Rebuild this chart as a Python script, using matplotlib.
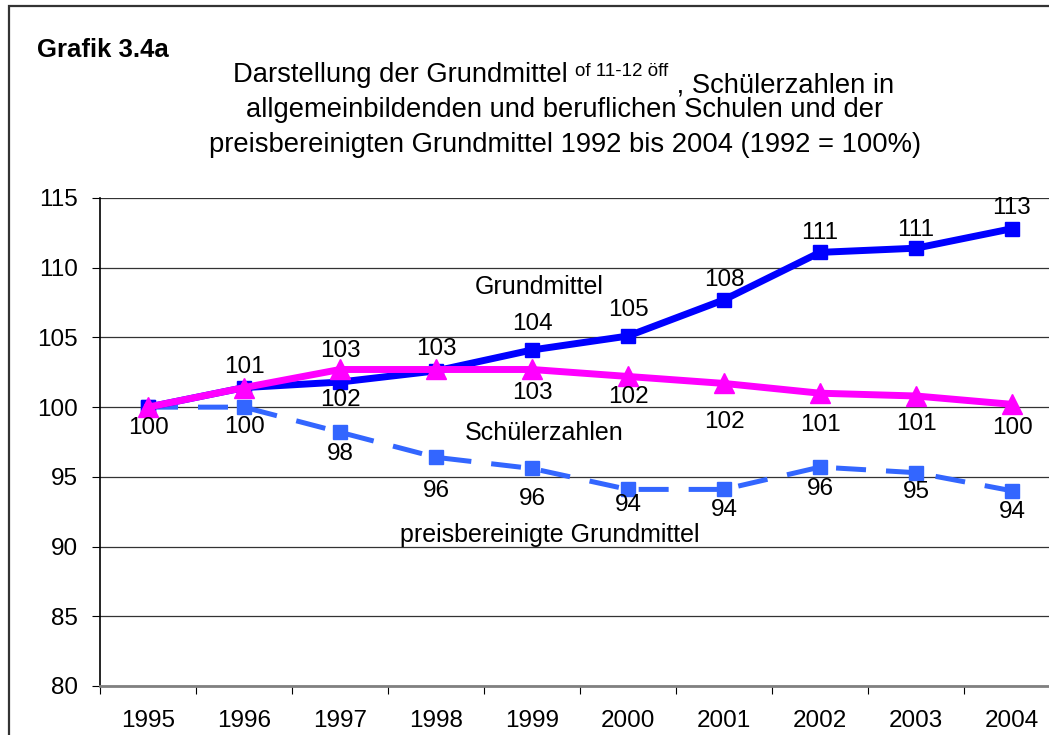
import matplotlib
import numpy as np

matplotlib.use("Agg")
import matplotlib.pyplot as plt  # noqa: E402
from matplotlib.patches import Rectangle  # noqa: E402

plt.rcParams["font.family"] = ["Liberation Sans", "DejaVu Sans"]

years = ["1995", "1996", "1997", "1998", "1999", "2000", "2001", "2002", "2003", "2004"]
grundmittel = [100.0, 101.4, 101.8, 102.6, 104.1, 105.1, 107.7, 111.1, 111.4, 112.8]
schueler = [100.0, 101.4, 102.7, 102.7, 102.7, 102.2, 101.7, 101.0, 100.8, 100.2]
preisber = [100.0, 100.0, 98.2, 96.4, 95.6, 94.1, 94.1, 95.7, 95.3, 94.0]

# label offsets in points (None = no label shown)
off_grund = [-15, 15, -13, 16, 19, 19, 14, 14, 13, 15]
off_schueler = [None, None, 13, None, -17, -15, -28, -23, -20, -17]
off_preis = [None, -14, -16, -24, -22, -11, -15, -16, -14, -15]

BLUE = "#0000FF"
MAGENTA = "#FF00FF"
LIGHT = "#3366FF"
FS = 17.5

fig = plt.figure(figsize=(10.49, 7.35), dpi=100)
W, H = 1049, 735
ax = fig.add_axes([100 / W, 1 - 686 / H, 960 / W, 488 / H])

x = np.arange(len(years))
ax.plot(x, preisber, color=LIGHT, lw=3.6, dashes=(6, 4), marker="s", ms=10,
        markeredgecolor=LIGHT, zorder=3)
ax.plot(x, grundmittel, color=BLUE, lw=5, marker="s", ms=10.5, zorder=4)
ax.plot(x, schueler, color=MAGENTA, lw=5, marker="^", ms=15, zorder=5)


def label(values, offsets):
    for xi, v, off in zip(x, values, offsets):
        if off is None:
            continue
        ax.annotate(f"{v:.0f}", (xi, v), xytext=(0, off), textcoords="offset points",
                    ha="center", va="center", fontsize=FS, zorder=6)


label(grundmittel, off_grund)
label(schueler, off_schueler)
label(preisber, off_preis)

ax.text(4.07, 108.6, "Grundmittel", ha="center", va="center", fontsize=18)
ax.text(4.13, 98.15, "Schülerzahlen", ha="center", va="center", fontsize=18)
ax.text(4.18, 90.8, "preisbereinigte Grundmittel", ha="center", va="center", fontsize=18)

ax.set_xlim(-0.5, len(years) - 0.5)
ax.set_ylim(80, 115)
ax.set_yticks(range(80, 116, 5))
ax.yaxis.grid(True, color="#333333", lw=0.9)
ax.set_axisbelow(True)
ax.tick_params(axis="y", labelsize=FS, length=6, pad=10, direction="out")

ax.set_xticks(np.arange(-0.5, len(years), 1))
ax.set_xticklabels([])
ax.set_xticks(x, minor=True)
ax.set_xticklabels(years, minor=True)
ax.tick_params(axis="x", which="major", length=6, direction="out")
ax.tick_params(axis="x", which="minor", length=0, labelsize=FS, pad=17)

for side in ("top", "right"):
    ax.spines[side].set_visible(False)
ax.spines["left"].set_color("black")
ax.spines["left"].set_linewidth(1.2)
ax.spines["bottom"].set_color("#808080")
ax.spines["bottom"].set_linewidth(2)

# outer frame
fig.patches.append(Rectangle((9 / W, -0.1), 1.2, 1.1 - 6 / H, transform=fig.transFigure,
                             fill=False, edgecolor="#333333", lw=1.6))

fig.text(37 / W, 1 - 50 / H, "Grafik 3.4a", fontsize=18.5, fontweight="bold",
         ha="left", va="center")

t1 = fig.text(233 / W, 1 - 82 / H, "Darstellung der Grundmittel ", fontsize=19.7,
              ha="left", va="baseline")
t2 = ax.annotate("of 11-12 öff", xy=(1, 0), xycoords=t1, xytext=(0, 9),
                 textcoords="offset points", fontsize=13.5, ha="left", va="baseline",
                 annotation_clip=False)
ax.annotate(" , Schülerzahlen in", xy=(1, 0), xycoords=t2, xytext=(0, -9),
            textcoords="offset points", fontsize=19.7, ha="left", va="baseline",
            annotation_clip=False)
fig.text(565 / W, 1 - 117 / H, "allgemeinbildenden und beruflichen Schulen und der",
         fontsize=19.7, ha="center", va="baseline")
fig.text(565 / W, 1 - 152 / H,
         "preisbereinigten Grundmittel 1992 bis 2004 (1992 = 100%)",
         fontsize=19.7, ha="center", va="baseline")

fig.savefig("out.png", dpi=100)
